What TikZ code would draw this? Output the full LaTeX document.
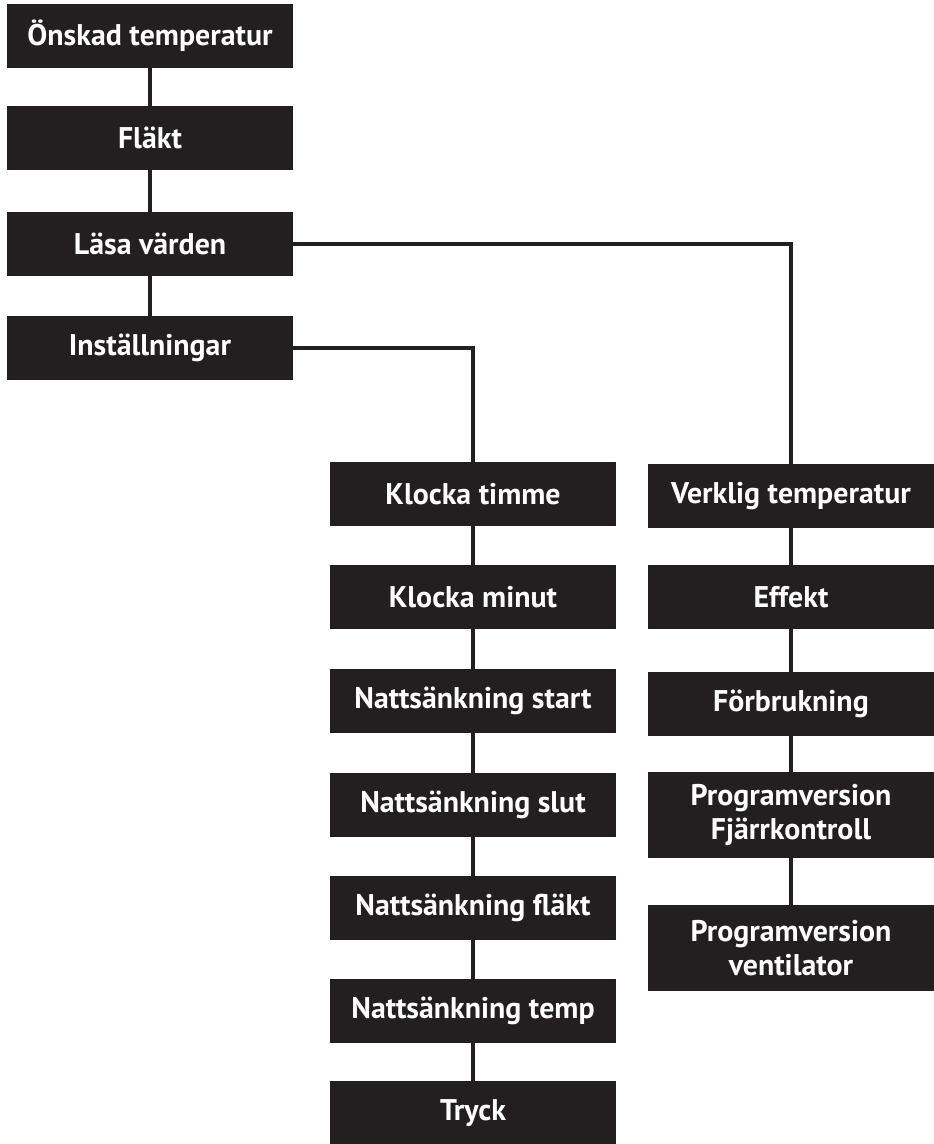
\documentclass[tikz,border=0pt]{standalone}
\usepackage{fontspec}
\setmainfont{PT Sans}
\definecolor{boxblack}{HTML}{231F20}

\begin{document}
\begin{tikzpicture}[x=0.02cm, y=-0.02cm,
	menubox/.style={fill=boxblack, text=white, inner sep=0pt, minimum width=5.72cm, minimum height=1.28cm, align=center, font=\fontsize{17}{19}\selectfont\bfseries},
	twoline/.style={menubox, minimum height=1.71cm},
	link/.style={draw=boxblack, line width=2.5pt}]
	\useasboundingbox (0, 0) rectangle (934, 1144);

	\node[menubox] at (150, 36) (onskad) {Önskad temperatur};
	\node[menubox] at (150, 138) (flakt) {Fläkt};
	\node[menubox] at (150, 244) (lasa) {Läsa värden};
	\node[menubox] at (150, 348) (install) {Inställningar};

	\node[menubox] at (473, 494) (timme) {Klocka timme};
	\node[menubox] at (473, 597) (minut) {Klocka minut};
	\node[menubox] at (473, 701) (start) {Nattsänkning start};
	\node[menubox] at (473, 805) (slut) {Nattsänkning slut};
	\node[menubox] at (473, 908) (nfkt) {Nattsänkning fläkt};
	\node[menubox] at (473, 1011) (ntemp) {Nattsänkning temp};
	\node[menubox] at (473, 1113) (tryck) {Tryck};

	\node[menubox] at (791, 496) (verklig) {Verklig temperatur};
	\node[menubox] at (791, 597) (effekt) {Effekt};
	\node[menubox] at (791, 704) (forbr) {Förbrukning};
	\node[twoline] at (791, 815) (progfj) {Programversion\\Fjärrkontroll};
	\node[twoline] at (791, 948) (progvent) {Programversion\\ventilator};

	\foreach \a/\b in {onskad/flakt, flakt/lasa, lasa/install, timme/minut, minut/start, start/slut, slut/nfkt, nfkt/ntemp, ntemp/tryck, verklig/effekt, effekt/forbr, forbr/progfj, progfj/progvent}{
		\draw[link] (\a) -- (\b);
	}
	\draw[link] (lasa.east) -| (verklig.north);
	\draw[link] (install.east) -| (timme.north);

\end{tikzpicture}
\end{document}
